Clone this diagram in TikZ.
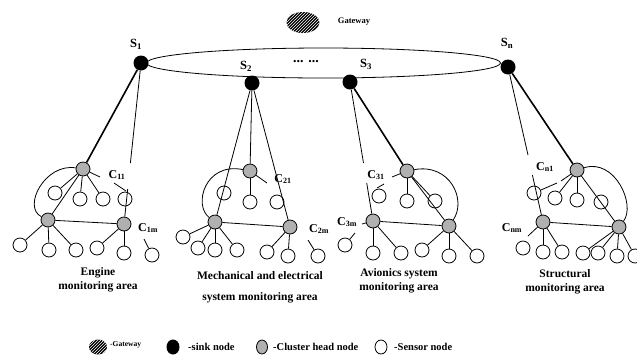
\documentclass[tikz,border=0pt]{standalone}
\usepackage{fontspec}
\setmainfont{Liberation Serif}
\usetikzlibrary{shapes.geometric,patterns}
\definecolor{headgray}{RGB}{176,176,176}
\begin{document}
\begin{tikzpicture}[x=1pt,y=-1pt,
  every node/.style={inner sep=0pt},
  sensor/.style={circle,draw,line width=0.8pt,fill=white,minimum size=14pt},
  head/.style={circle,draw,line width=0.8pt,fill=headgray,minimum size=14pt},
  sink/.style={circle,fill=black,minimum size=15pt},
  gway/.style={ellipse,fill=black,postaction={pattern=north east lines,pattern color=white}},
  lnk/.style={line width=0.8pt},
  thk/.style={line width=1.6pt},
  slbl/.style={font=\bfseries\fontsize{12.5}{14}\selectfont},
  clbl/.style={font=\bfseries\fontsize{12}{14}\selectfont},
  alb/.style={font=\bfseries\fontsize{11.5}{14}\selectfont,align=center},
  leg/.style={font=\bfseries\fontsize{10.5}{12}\selectfont,anchor=west},
]
\useasboundingbox (0,0) rectangle (637,360);

% ring and gateway
\draw[lnk] (323.5,63) ellipse [x radius=177, y radius=15];
\node[gway,minimum width=33pt,minimum height=21pt] (gw) at (303,22.5) {};
\node[font=\bfseries\fontsize{8.5}{10}\selectfont] (gwl) at (354,22) {Gateway};
\node[font=\bfseries\fontsize{14}{14}\selectfont] (dots) at (306,62) {... ...};

% sinks
\node[sink] (s1) at (141,63) {};
\node[sink] (s2) at (252,83) {};
\node[sink] (s3) at (350,82) {};
\node[sink] (sn) at (508,67) {};
\node[slbl] (ls1) at (136,44) {S\textsubscript{1}};
\node[slbl] (ls2) at (246,66) {S\textsubscript{2}};
\node[slbl] (ls3) at (366,64) {S\textsubscript{3}};
\node[slbl] (lsn) at (507,43) {S\textsubscript{n}};

% ---------------- cluster 1
\node[head] (h11) at (83,169) {};
\node[head] (h1b) at (48,220) {};
\node[head] (h1m) at (124,224) {};
\node[sensor] (a1) at (55,193) {};
\node[sensor] (a2) at (80,199) {};
\node[sensor] (a3) at (103,199) {};
\node[sensor] (a4) at (125,199) {};
\node[sensor] (b1) at (20,245) {};
\node[sensor] (b2) at (49,250) {};
\node[sensor] (b3) at (76,250) {};
\node[sensor] (b4) at (97,248) {};
\node[sensor] (b5) at (124,253) {};
\node[sensor] (b6) at (152,255) {};
\node[clbl] (lc11) at (117,175) {C\textsubscript{11}};
\node[clbl] (lc1m) at (148,228) {C\textsubscript{1m}};
\coordinate (g1a) at (130.4,163);
\coordinate (g1b) at (127.7,189);
\coordinate (q11) at (100,177);
\coordinate (p11a) at (114,183);
\coordinate (p11b) at (126,191);
\coordinate (q1m) at (144,239);
\draw[thk] (s1) -- (h11);
\draw[lnk] (s1) -- (g1a);
\draw[lnk] (g1b) -- (h1m);
\draw[lnk] (h11) -- (a1);
\draw[lnk] (h11) -- (a2);
\draw[lnk] (h11) -- (a3);
\draw[lnk] (h11) -- (q11);
\draw[lnk] (p11a) -- (p11b);
\draw[lnk] (h11) -- (h1b);
\draw[lnk] (h11) .. controls (45,163) and (22,207) .. (h1b);
\draw[lnk] (h1b) -- (h1m);
\draw[lnk] (h1b) -- (b1);
\draw[lnk] (h1b) -- (b2);
\draw[lnk] (h1b) -- (b3);
\draw[lnk] (h1m) -- (b4);
\draw[lnk] (h1m) -- (b5);
\draw[lnk] (q1m) -- (b6);

% ---------------- cluster 2
\node[head] (h21) at (250,171) {};
\node[head] (h2b) at (215,222) {};
\node[head] (h2m) at (290,227) {};
\node[sensor] (c1) at (224,193) {};
\node[sensor] (c2) at (250,202) {};
\node[sensor] (c3) at (277,202) {};
\node[sensor] (d1) at (183,237) {};
\node[sensor] (d2) at (198,248) {};
\node[sensor] (d3) at (215,250) {};
\node[sensor] (d4) at (237,250) {};
\node[sensor] (d5) at (267,252) {};
\node[sensor] (d6) at (288,256) {};
\node[sensor] (d7) at (318,256) {};
\node[clbl] (lc21) at (283,179) {C\textsubscript{21}};
\node[clbl] (lc2m) at (319,229) {C\textsubscript{2m}};
\coordinate (q21) at (267,183);
\coordinate (q2m) at (308,240);
\draw[lnk] (s2) -- (h21);
\draw[lnk] (s2) -- (h2b);
\draw[lnk] (s2) -- (h2m);
\draw[lnk] (h21) -- (c2);
\draw[lnk] (h21) -- (q21);
\draw[lnk] (h21) .. controls (205,162) and (193,205) .. (h2b);
\draw[lnk] (h2b) -- (h2m);
\draw[lnk] (h2b) -- (d1);
\draw[lnk] (h2b) -- (d2);
\draw[lnk] (h2b) -- (d3);
\draw[lnk] (h2b) -- (d4);
\draw[lnk] (h2m) -- (d5);
\draw[lnk] (h2m) -- (d6);
\draw[lnk] (q2m) -- (d7);

% ---------------- cluster 3
\node[head] (h31) at (407,171) {};
\node[head] (h3m) at (373,221) {};
\node[head] (h3c) at (449,226) {};
\node[sensor] (e1) at (379,196) {};
\node[sensor] (e2) at (407,201) {};
\node[sensor] (e3) at (435,201) {};
\node[sensor] (f1) at (345,245) {};
\node[sensor] (f2) at (373,253) {};
\node[sensor] (f3) at (401,253) {};
\node[sensor] (f4) at (422,250) {};
\node[sensor] (f5) at (449,256) {};
\node[sensor] (f6) at (477,256) {};
\node[clbl] (lc31) at (376,175) {C\textsubscript{31}};
\node[clbl] (lc3m) at (347,222) {C\textsubscript{3m}};
\coordinate (g3a) at (363.5,163);
\coordinate (g3b) at (366.7,183);
\coordinate (q31) at (392,177);
\coordinate (p31a) at (377,188);
\coordinate (p31b) at (384,184);
\coordinate (q3m) at (362,224);
\coordinate (q3f) at (355,233);
\draw[thk] (s3) -- (h31);
\draw[lnk] (s3) -- (g3a);
\draw[lnk] (g3b) -- (h3m);
\draw[lnk] (h31) -- (h3c);
\draw[lnk] (h31) -- (e2);
\draw[lnk] (h31) -- (e3);
\draw[lnk] (q31) -- (h31);
\draw[lnk] (p31a) -- (p31b);
\draw[lnk] (h31) .. controls (450,163) and (467,200) .. (h3c);
\draw[lnk] (h3m) -- (h3c);
\draw[lnk] (q3m) -- (h3m);
\draw[lnk] (h3m) -- (f2);
\draw[lnk] (h3m) -- (f3);
\draw[lnk] (f1) -- (q3f);
\draw[lnk] (h3c) -- (f4);
\draw[lnk] (h3c) -- (f5);
\draw[lnk] (h3c) -- (f6);

% ---------------- cluster n
\node[head] (hn1) at (577,170) {};
\node[head] (hnm) at (543,222) {};
\node[head] (hnc) at (619,227) {};
\node[sensor] (g1) at (534,193) {};
\node[sensor] (g2) at (555,198) {};
\node[sensor] (g3) at (577,200) {};
\node[sensor] (g4) at (601,202) {};
\node[sensor] (k1) at (523,248) {};
\node[sensor] (k2) at (543,252) {};
\node[sensor] (k3) at (562,252) {};
\node[sensor] (k4) at (583,253) {};
\node[sensor] (k5) at (598,253) {};
\node[sensor] (k6) at (617,256) {};
\node[sensor] (k7) at (635,256) {};
\node[clbl] (lcn1) at (545,167) {C\textsubscript{n1}};
\node[clbl] (lcnm) at (512,228) {C\textsubscript{nm}};
\coordinate (gna) at (528,155);
\coordinate (gnb) at (532.4,175);
\coordinate (pn1a) at (557,183);
\coordinate (pn1b) at (561,181);
\coordinate (qnm) at (528,236);
\draw[thk] (sn) -- (hn1);
\draw[lnk] (sn) -- (gna);
\draw[lnk] (gnb) -- (hnm);
\draw[lnk] (hn1) -- (hnc);
\draw[lnk] (hn1) -- (g2);
\draw[lnk] (hn1) -- (g3);
\draw[lnk] (g1) -- (pn1a);
\draw[lnk] (pn1b) -- (hn1);
\draw[lnk] (hn1) .. controls (615,158) and (636,205) .. (hnc);
\draw[lnk] (hnm) -- (hnc);
\draw[lnk] (qnm) -- (hnm);
\draw[lnk] (hnm) -- (k2);
\draw[lnk] (hnm) -- (k3);
\draw[lnk] (hnc) -- (k4);
\draw[lnk] (hnc) -- (k5);
\draw[lnk] (hnc) -- (k6);
\draw[lnk] (hnc) -- (k7);

% area labels
\node[alb] (ar1) at (98,280) {Engine\\monitoring area};
\node[alb,font=\bfseries\fontsize{11.5}{21}\selectfont] (ar2) at (260,287.5) {Mechanical and electrical\\system monitoring area};
\node[alb] (ar3) at (399,280.5) {Avionics system\\monitoring area};
\node[alb] (ar4) at (565,281.5) {Structural\\monitoring area};

% legend
\node[gway,minimum width=18pt,minimum height=15pt] (lgw) at (98,347) {};
\node[font=\bfseries\fontsize{7.5}{9}\selectfont,anchor=west] (tgw) at (110,345) {-Gateway};
\node[ellipse,fill=black,minimum width=13pt,minimum height=15pt] (lsk) at (173,347) {};
\node[leg] (tsk) at (188,347) {-sink node};
\node[ellipse,draw,line width=0.8pt,fill=headgray,minimum width=11pt,minimum height=14pt] (lch) at (262,347) {};
\node[leg] (tch) at (273,347) {-Cluster head node};
\node[ellipse,draw,line width=0.8pt,fill=white,minimum width=12pt,minimum height=14pt] (lsn) at (381,347) {};
\node[leg] (tsn) at (394,347) {-Sensor node};
\end{tikzpicture}
\end{document}
